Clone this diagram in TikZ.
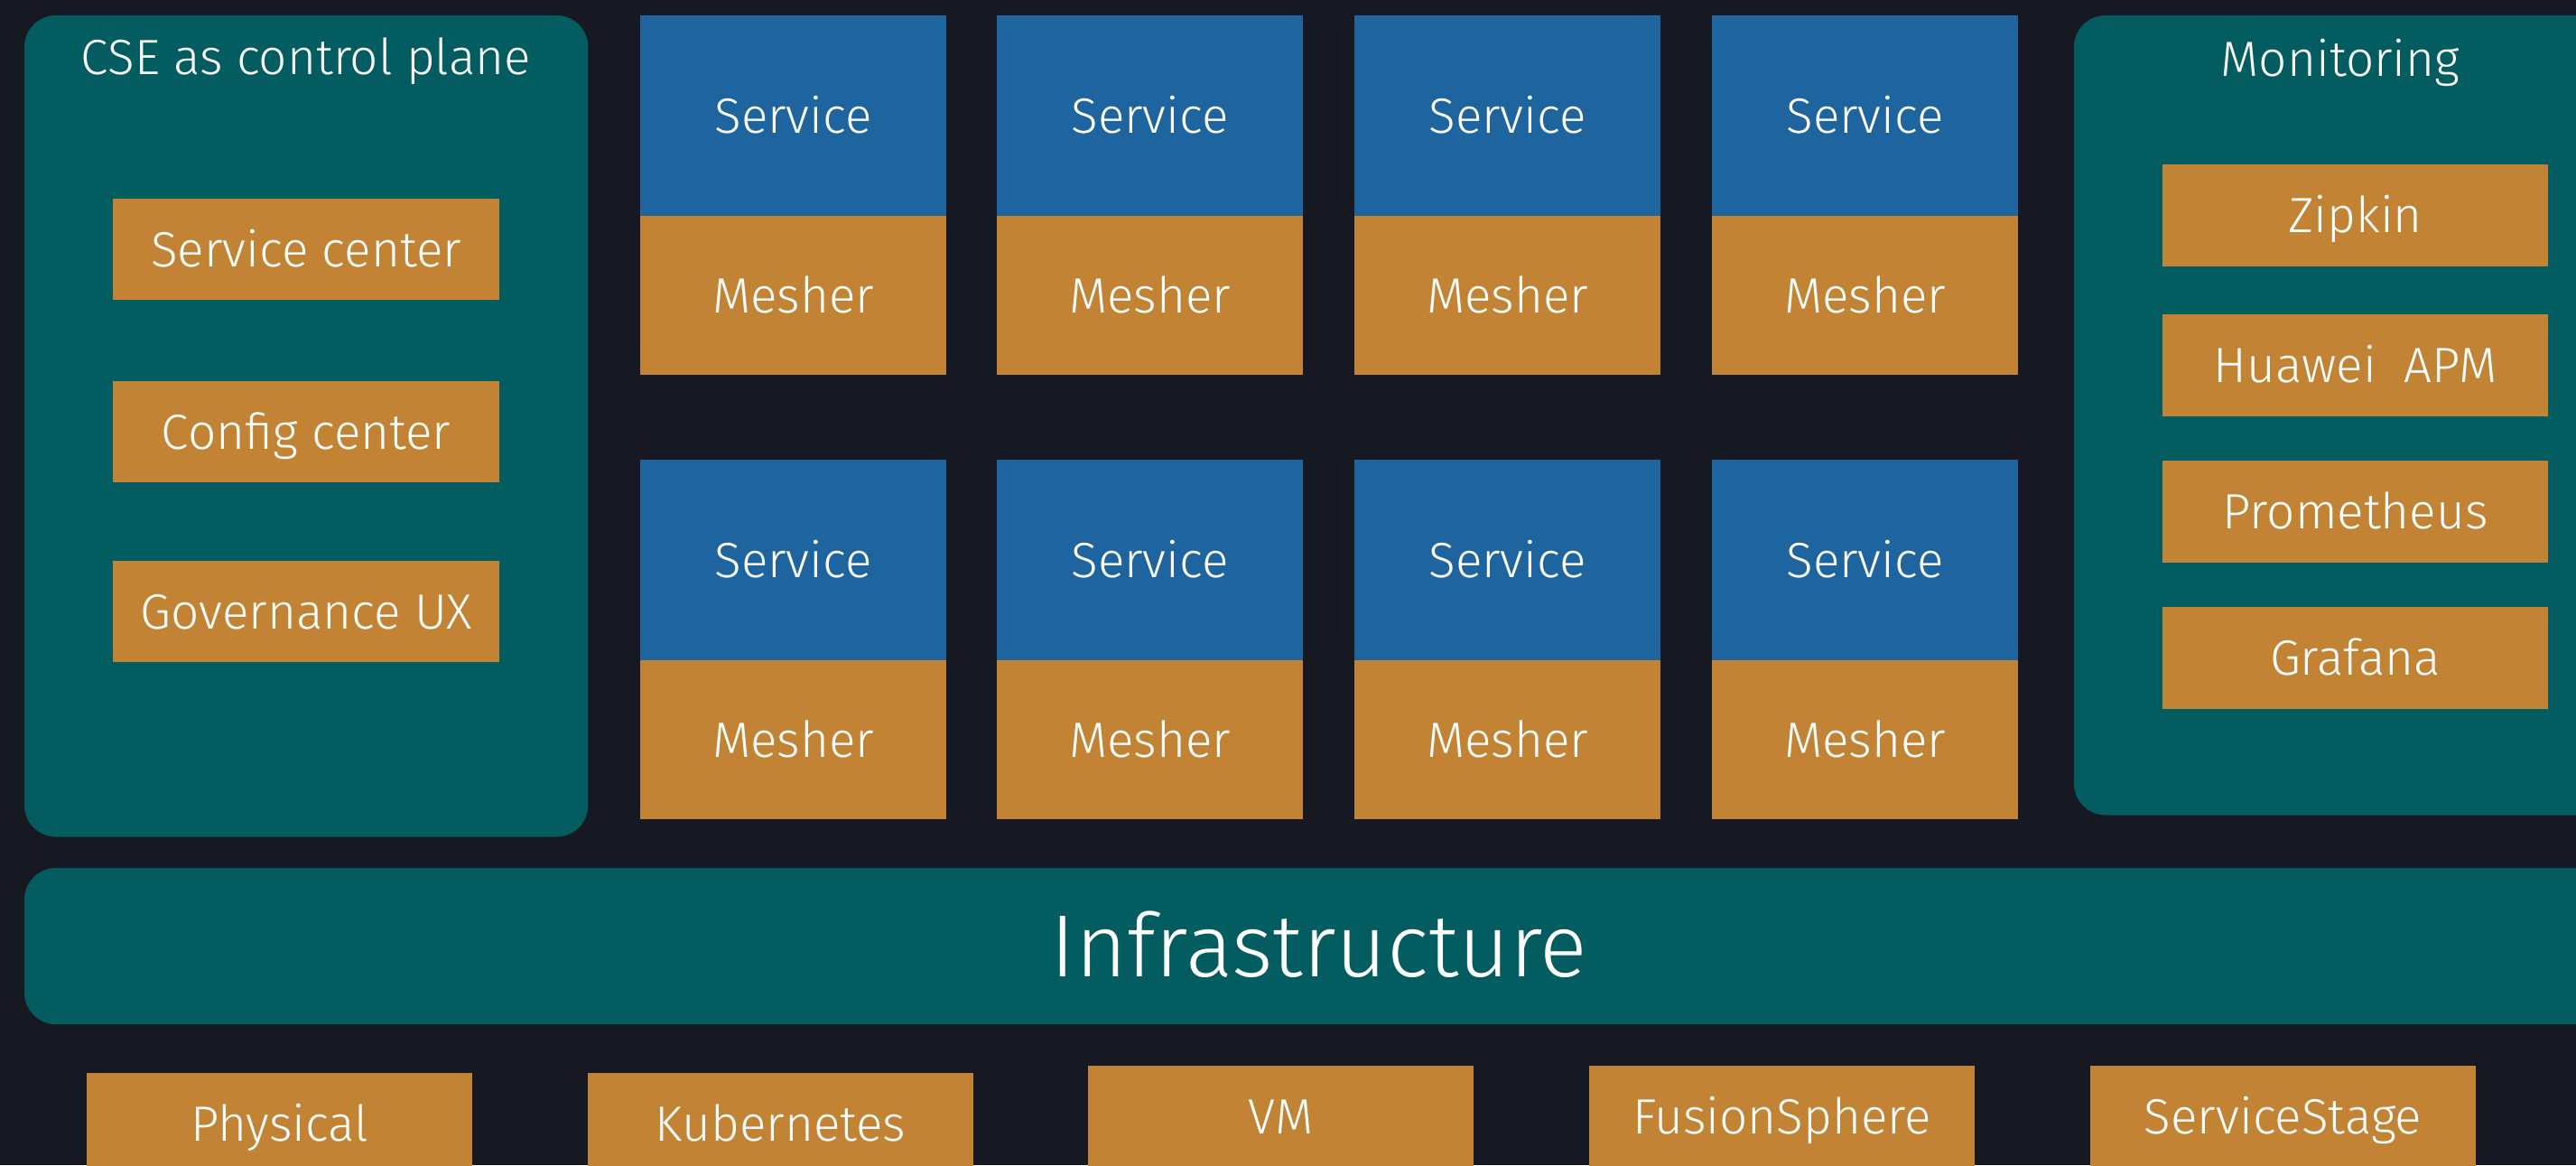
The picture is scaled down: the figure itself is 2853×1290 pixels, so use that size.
\documentclass[tikz,border=0pt]{standalone}
\usepackage{fontspec}
\setmainfont{Fira Sans}[UprightFont={* Light}]
\definecolor{bgdark}{HTML}{161921}
\definecolor{tealpanel}{HTML}{025C60}
\definecolor{svcblue}{HTML}{1E649E}
\definecolor{meshorange}{HTML}{C28434}
\newcommand\myfs{\fontsize{15.6}{18}\selectfont}
\newcommand\bigfs{\fontsize{27.8}{33}\selectfont}
\tikzset{
  base box/.style={draw=none, inner sep=0pt, outer sep=0pt, anchor=north west,
    text=white, font=\myfs, text height=0.38cm, text depth=0pt},
  panel/.style={base box, fill=tealpanel, rounded corners=0.35cm},
  svcbox/.style={base box, fill=svcblue, minimum width=3.39cm, minimum height=2.22cm},
  meshbox/.style={base box, fill=meshorange, minimum width=3.39cm, minimum height=1.76cm},
  toolbox/.style={base box, fill=meshorange, minimum width=4.28cm, minimum height=1.12cm},
  platbox/.style={base box, fill=meshorange, minimum width=4.27cm, minimum height=1.13cm},
  paneltitle/.style={text=white, font=\myfs, anchor=base, inner sep=0pt}
}
\begin{document}
\begin{tikzpicture}[x=0.01cm, y=-0.01cm]
  \fill[bgdark] (0,0) rectangle (2853,1290);
  \clip (0,0) rectangle (2853,1290);

  % CSE control plane panel
  \node[panel, minimum width=6.24cm, minimum height=9.09cm] (cse) at (27,17) {};
  \node[paneltitle] (csetitle) at (339,82) {CSE as control plane};
  \node[toolbox] (sc) at (125,220) {Service center};
  \node[toolbox] (cc) at (125,422) {Config center};
  \node[toolbox] (gux) at (125,621) {Governance UX};

  % Services with meshers
  \foreach \i/\x in {1/709,2/1104,3/1500,4/1896}{
    \node[svcbox] (sA\i) at (\x,17) {Service};
    \node[meshbox] (mA\i) at (\x,239) {Mesher};
    \node[svcbox] (sB\i) at (\x,509) {Service};
    \node[meshbox] (mB\i) at (\x,731) {Mesher};
  }

  % Monitoring panel
  \node[panel, minimum width=5.90cm, minimum height=8.85cm] (mon) at (2297,17) {};
  \node[paneltitle] (montitle) at (2592,84) {Monitoring};
  \node[platbox] (zip) at (2395,182) {Zipkin};
  \node[platbox] (apm) at (2395,348) {Huawei\ \ APM};
  \node[platbox] (prom) at (2395,510) {Prometheus};
  \node[platbox] (graf) at (2395,672) {Grafana};

  % Infrastructure
  \node[panel, minimum width=28.66cm, minimum height=1.73cm, font=\bigfs, text height=0.68cm] (infra) at (27,961) {Infrastructure};

  % Platforms
  \node[platbox] (phys) at (96,1188) {Physical};
  \node[platbox] (k8s) at (651,1188) {Kubernetes};
  \node[platbox] (vm) at (1205,1180) {VM};
  \node[platbox] (fs) at (1760,1180) {FusionSphere};
  \node[platbox] (ss) at (2315,1180) {ServiceStage};
\end{tikzpicture}
\end{document}
